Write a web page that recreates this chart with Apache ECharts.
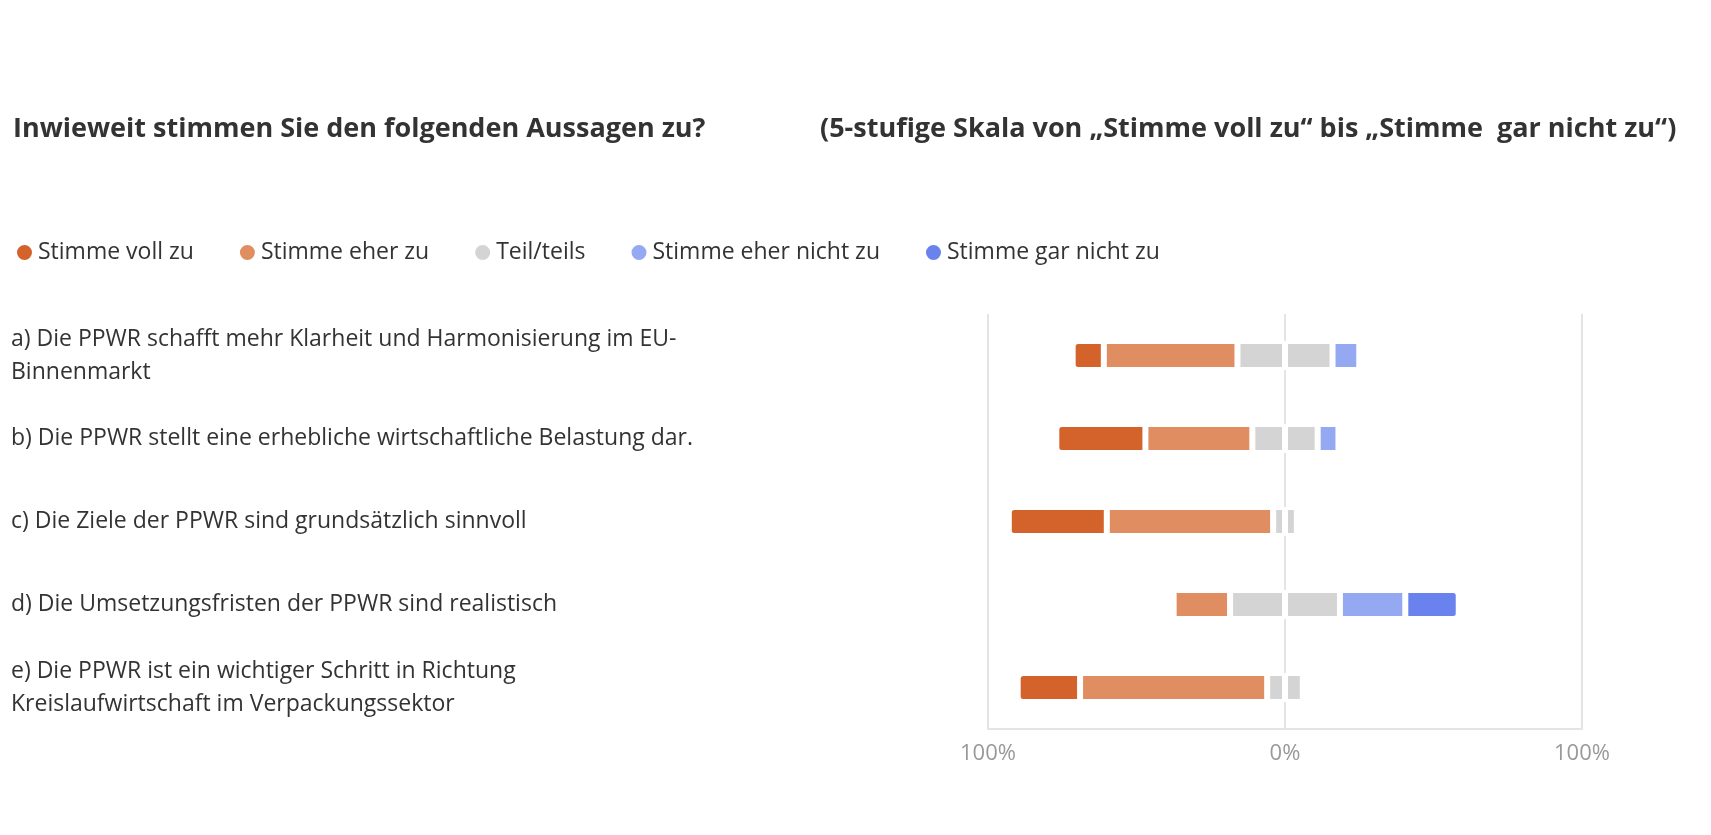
<!DOCTYPE html>
<html><head><meta charset="utf-8">
<script src="https://cdn.jsdelivr.net/npm/echarts@6/dist/echarts.min.js"></script>
<style>html,body{margin:0;background:#fff}#c{width:1711px;height:835px}</style>
</head><body><div id="c"></div>
<script>
const statements = [
  'a) Die PPWR schafft mehr Klarheit und Harmonisierung im EU-\nBinnenmarkt',
  'b) Die PPWR stellt eine erhebliche wirtschaftliche Belastung dar.',
  'c) Die Ziele der PPWR sind grundsätzlich sinnvoll',
  'd) Die Umsetzungsfristen der PPWR sind realistisch',
  'e) Die PPWR ist ein wichtiger Schritt in Richtung\nKreislaufwirtschaft im Verpackungssektor'
];
// percentages per statement (a..e)
const vollZu = [10.5, 30, 33, 1.5, 21];
const eherZu = [45, 36, 56, 19, 63];
const teils = [32, 22, 8, 37, 12];
const eherNicht = [9, 7, 1.5, 22, 1.5];
const garNicht = [0, 2, 0, 18, 0];

const colors = { voll: '#d3622b', eher: '#e08d62', teil: '#d4d4d4', eherN: '#94a9f1', gar: '#6a82ee' };
const font = '"Open Sans", sans-serif';

// categories reversed so a) is on top
const cats = statements.slice().reverse();
const rev = a => a.slice().reverse();
const neg = a => rev(a).map(v => -v);
const half = a => a.map(v => v / 2);

function bar(name, data, color, radius) {
  return {
    name, type: 'bar', stack: 'all', data, barWidth: 29,
    itemStyle: { color, borderColor: '#fff', borderWidth: 3, borderRadius: radius },
    emphasis: { disabled: true }
  };
}

const chart = echarts.init(document.getElementById('c'));
chart.setOption({
  animation: false,
  title: [
    { text: 'Inwieweit stimmen Sie den folgenden Aussagen zu?', left: 8, top: 111,
      textStyle: { fontFamily: font, fontSize: 27, fontWeight: 'bold', color: '#333' } },
    { text: '(5-stufige Skala von \u201EStimme voll zu\u201C bis \u201EStimme  gar nicht zu\u201C)', left: 815, top: 111,
      textStyle: { fontFamily: font, fontSize: 27, fontWeight: 'bold', color: '#333' } }
  ],
  legend: {
    left: 10, top: 236, icon: 'circle', itemWidth: 17, itemHeight: 17, itemGap: 44,
    textStyle: { fontFamily: font, fontSize: 23, color: '#333' },
    data: ['Stimme voll zu', 'Stimme eher zu', 'Teil/teils', 'Stimme eher nicht zu', 'Stimme gar nicht zu']
  },
  grid: { left: 988, right: 129, top: 314, bottom: 106 },
  xAxis: {
    type: 'value', min: -100, max: 100, interval: 100,
    axisLabel: { formatter: v => Math.abs(v) + '%', color: '#999', fontFamily: font, fontSize: 22, margin: 14 },
    splitLine: { lineStyle: { color: '#e4e4e4', width: 2 } },
    axisLine: { show: true, lineStyle: { color: '#e4e4e4', width: 2 } },
    axisTick: { show: false }
  },
  yAxis: {
    type: 'category', data: cats,
    axisLine: { show: false }, axisTick: { show: false },
    axisLabel: { align: 'left', margin: 977, color: '#333', fontFamily: font, fontSize: 23, lineHeight: 33 }
  },
  series: [
    bar('Teil/teils', neg(half(teils)), colors.teil, 0),
    bar('Stimme eher zu', neg(eherZu), colors.eher, 0),
    bar('Stimme voll zu', neg(vollZu), colors.voll, [4, 0, 0, 4]),
    bar('Teil/teils', rev(half(teils)), colors.teil, 0),
    bar('Stimme eher nicht zu', rev(eherNicht), colors.eherN, 0),
    bar('Stimme gar nicht zu', rev(garNicht), colors.gar, [0, 4, 4, 0])
  ]
});
</script>
</body></html>
